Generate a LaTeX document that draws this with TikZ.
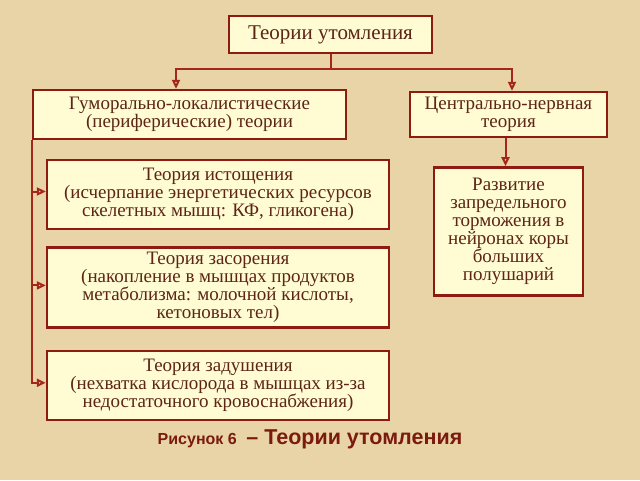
\documentclass[tikz,border=0pt]{standalone}
\usepackage{fontspec}
\setmainfont{Liberation Serif}
\newfontfamily\capfont{Liberation Sans}
\usetikzlibrary{positioning,arrows.meta}
\definecolor{paper}{HTML}{E8D4A6}
\definecolor{boxfill}{HTML}{FFFBD3}
\definecolor{frame}{HTML}{8E1B10}
\definecolor{ink}{HTML}{5C2516}
\definecolor{wire}{HTML}{A3281A}
\definecolor{capred}{HTML}{7B1A0E}

\begin{document}
\begin{tikzpicture}[x=1pt,y=-1pt,>={Triangle[open,length=9pt,width=8pt]},
                    line width=2.4pt, font=\fontsize{19}{18}\selectfont]
  \tikzstyle{theory}=[draw=frame,fill=boxfill,text=ink,align=center,inner sep=2pt]
  \tikzstyle{link}=[->,draw=wire,line width=2pt]

  \fill[paper] (0,0) rectangle (640,480);
  \useasboundingbox (0,0) rectangle (640,480);

  \node[theory, minimum width=203pt, minimum height=37pt,
        font=\fontsize{21}{22}\selectfont] (top) at (330.5,34.5) {Теории утомления};
  \node[theory, minimum width=313pt, minimum height=49pt] (hum) at (189.5,114.5)
        {Гуморально-локалистические\\(периферические) теории};
  \node[theory, minimum width=197pt, minimum height=45pt] (cen) at (508.5,114.5)
        {Центрально-нервная\\теория};

  \node[theory, minimum width=342pt, minimum height=69pt] (ist) at (218,194.5)
        {Теория истощения\\(исчерпание энергетических ресурсов\\скелетных мышц: КФ, гликогена)};
  \node[theory, minimum width=342pt, minimum height=80pt] (zas) [below=16pt of ist]
        {Теория засорения\\(накопление в мышцах продуктов\\метаболизма: молочной кислоты,\\кетоновых тел)};
  \node[theory, minimum width=342pt, minimum height=69pt] (zad) [below=21pt of zas]
        {Теория задушения\\(нехватка кислорода в мышцах из-за\\недостаточного кровоснабжения)};
  \node[theory, minimum width=149pt, minimum height=128pt] (raz) [below=28pt of cen]
        {Развитие\\запредельного\\торможения в\\нейронах коры\\больших\\полушарий};

  \node[text=capred, font=\capfont\bfseries\fontsize{21.5}{23}\selectfont] (cap) at (310,439)
        {{\fontsize{16}{18}\selectfont Рисунок 6} \,– Теории утомления};

  % branches from the top box
  \draw[link] (top.south) -- ++(0,15) coordinate (fork) -| ([xshift=-13.5pt]hum.north);
  \draw[link] (fork) -| ([xshift=3.5pt]cen.north);
  \draw[link] ([xshift=-3pt]cen.south) -- ([xshift=-3pt]cen.south |- raz.north);

  % left bus
  \draw[link] (hum.south west) |- ([yshift=2.5pt]zad.west);
  \draw[link] ([yshift=3pt]ist.west -| hum.south west) -- ([yshift=3pt]ist.west);
  \draw[link] ([yshift=2pt]zas.west -| hum.south west) -- ([yshift=2pt]zas.west);
\end{tikzpicture}
\end{document}
